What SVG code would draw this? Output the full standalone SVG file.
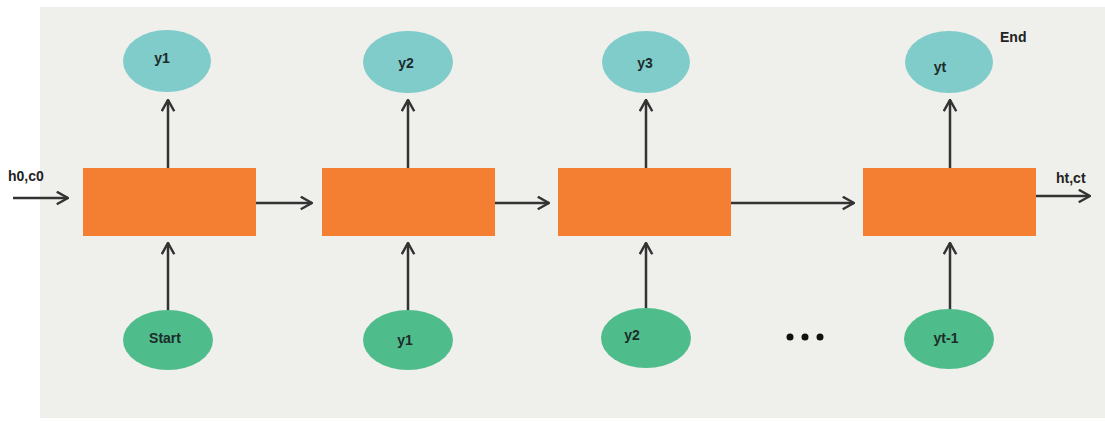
<svg xmlns="http://www.w3.org/2000/svg" width="1105" height="421" viewBox="0 0 1105 421">
  <style>
    .cell { fill: #f47f32; }
    .out { fill: #7fcccb; }
    .in { fill: #4fbd8b; }
    .lbl { font-family: "Liberation Sans", Arial, sans-serif; font-weight: bold; font-size: 14px; fill: #1d2b2a; text-anchor: middle; dominant-baseline: central; }
    .side { font-family: "Liberation Sans", Arial, sans-serif; font-weight: bold; font-size: 14px; fill: #222; }
    .edge { stroke: #333; stroke-width: 2.5; fill: none; marker-end: url(#chev); }
  </style>
  <defs>
    <marker id="chev" viewBox="0 0 12 12" refX="11" refY="6" markerWidth="6" markerHeight="6" markerUnits="strokeWidth" orient="auto">
      <path d="M2,1 L11,6 L2,11" fill="none" stroke="#333" stroke-width="2"/>
    </marker>
  </defs>

  <rect x="0" y="0" width="1105" height="421" fill="#ffffff"/>
  <rect x="40" y="7" width="1065" height="411" fill="#efefeb"/>

  <!-- connectors -->
  <g id="connectors">
    <line class="edge" x1="13" y1="198" x2="68" y2="198"/>
    <line class="edge" x1="256" y1="203" x2="312" y2="203"/>
    <line class="edge" x1="495" y1="203" x2="549" y2="203"/>
    <line class="edge" x1="731" y1="203" x2="854" y2="203"/>
    <line class="edge" x1="1036" y1="196" x2="1090" y2="196"/>

    <line class="edge" x1="168" y1="168" x2="168" y2="100"/>
    <line class="edge" x1="408" y1="168" x2="408" y2="100"/>
    <line class="edge" x1="646" y1="168" x2="646" y2="100"/>
    <line class="edge" x1="950" y1="168" x2="950" y2="100"/>

    <line class="edge" x1="168" y1="310" x2="168" y2="243"/>
    <line class="edge" x1="408" y1="310" x2="408" y2="243"/>
    <line class="edge" x1="646" y1="310" x2="646" y2="243"/>
    <line class="edge" x1="950" y1="310" x2="950" y2="243"/>
  </g>

  <!-- recurrent cells -->
  <g id="cell1"><rect class="cell" x="83" y="168" width="173" height="68"/></g>
  <g id="cell2"><rect class="cell" x="322" y="168" width="173" height="68"/></g>
  <g id="cell3"><rect class="cell" x="558" y="168" width="173" height="68"/></g>
  <g id="cell4"><rect class="cell" x="863" y="168" width="173" height="68"/></g>

  <!-- outputs -->
  <g id="out1"><ellipse class="out" cx="167" cy="61" rx="44" ry="31"/><text class="lbl" x="162" y="58">y1</text></g>
  <g id="out2"><ellipse class="out" cx="408" cy="62" rx="45" ry="31"/><text class="lbl" x="406" y="63">y2</text></g>
  <g id="out3"><ellipse class="out" cx="646" cy="62" rx="44" ry="31"/><text class="lbl" x="645" y="63">y3</text></g>
  <g id="out4"><ellipse class="out" cx="949" cy="62" rx="44" ry="31"/><text class="lbl" x="940" y="67">yt</text></g>

  <!-- inputs -->
  <g id="in1"><ellipse class="in" cx="168" cy="340" rx="45" ry="30"/><text class="lbl" x="165" y="338">Start</text></g>
  <g id="in2"><ellipse class="in" cx="408" cy="340" rx="45" ry="30"/><text class="lbl" x="405" y="340">y1</text></g>
  <g id="in3"><ellipse class="in" cx="646" cy="338" rx="45" ry="30"/><text class="lbl" x="632" y="335">y2</text></g>
  <g id="in4"><ellipse class="in" cx="949" cy="339" rx="45" ry="30"/><text class="lbl" x="946" y="338">yt-1</text></g>

  <!-- side labels -->
  <g id="labels">
    <text class="side" x="8" y="181">h0,c0</text>
    <text class="side" x="1056" y="183">ht,ct</text>
    <text class="side" x="1000" y="42">End</text>
    <circle cx="790" cy="337" r="3.5" fill="#111"/>
    <circle cx="805" cy="337" r="3.5" fill="#111"/>
    <circle cx="820" cy="337" r="3.5" fill="#111"/>
  </g>
</svg>
